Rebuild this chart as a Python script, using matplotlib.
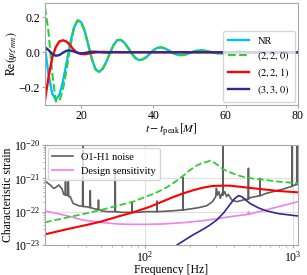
import numpy as np
import matplotlib
matplotlib.use('Agg')
from matplotlib import pyplot as plt
from matplotlib.ticker import NullFormatter

plt.rcParams['font.family'] = ['Liberation Serif', 'DejaVu Serif']
plt.rcParams['mathtext.fontset'] = 'stix'
plt.rcParams['font.size'] = 8.5
plt.rcParams['axes.edgecolor'] = '0.65'
plt.rcParams['axes.linewidth'] = 0.8
for a in ('xtick', 'ytick'):
    plt.rcParams[a + '.color'] = '0.65'
    plt.rcParams[a + '.labelcolor'] = 'black'
    plt.rcParams[a + '.major.size'] = 2
    plt.rcParams[a + '.minor.size'] = 1.2
    plt.rcParams[a + '.major.pad'] = 1.5
    plt.rcParams[a + '.minor.pad'] = 1.5

# ---- ringdown waveforms (top panel), sampled every 1 M
t = np.arange(10, 81, 1.0)
nr = [0.02, -0.13, -0.235, -0.27, -0.242, -0.164, -0.056, 0.054, 0.140, 0.180,
      0.172, 0.120, 0.040, -0.041, -0.098, -0.112, -0.093, -0.053, -0.003, 0.042,
      0.069, 0.070, 0.053, 0.025, -0.007, -0.033, -0.045, -0.041, -0.028, -0.0085,
      0.011, 0.024, 0.028, 0.023, 0.013, 0.0005, -0.010, -0.016, -0.016, -0.012,
      -0.0046, 0.003, 0.009, 0.011, 0.0096, 0.0059, 0.001, -0.0036, -0.0065, -0.007,
      -0.0053, -0.0025, 0.0006, 0.0033, 0.0045, 0.004, 0.002, -0.0003, -0.002, -0.003,
      -0.0025, -0.001, 0.0005, 0.0015, 0.0018, 0.001, 0.0, -0.001, -0.001, -0.0005, 0.0]
mode_220 = [0.256, 0.11, -0.12, -0.28, -0.278, -0.208, -0.095, 0.031, 0.134, 0.182,
            0.173, 0.120, 0.040, -0.041, -0.098, -0.112, -0.093, -0.053, -0.003, 0.042,
            0.069, 0.070, 0.053, 0.025, -0.007, -0.033, -0.045, -0.041, -0.028, -0.0085,
            0.011, 0.024, 0.028, 0.023, 0.013, 0.0005, -0.010, -0.016, -0.016, -0.012,
            -0.0046, 0.003, 0.009, 0.011, 0.0096, 0.0059, 0.001, -0.0036, -0.0065, -0.007,
            -0.0053, -0.0025, 0.0006, 0.0033, 0.0045, 0.004, 0.002, -0.0003, -0.002, -0.003,
            -0.0025, -0.001, 0.0005, 0.0015, 0.0018, 0.001, 0.0, -0.001, -0.001, -0.0005, 0.0]
mode_221 = [-0.27, -0.14, -0.03, 0.03, 0.062, 0.068, 0.060, 0.038, 0.013, -0.004,
            -0.010, -0.011, -0.008, -0.004, -0.001, 0.001, 0.002, 0.0015, 0.0008] + [0.0] * 52
mode_330 = [0.028, 0.012, -0.010, -0.020, -0.016, -0.002, 0.009, 0.010, 0.004, -0.003,
            -0.006, -0.004, 0.0, 0.003, 0.003, 0.001, -0.001, -0.002, -0.001, 0.0005,
            0.001] + [0.0] * 50
labels_top = ['NR', '$(2,2,0)$', '$(2,2,1)$', '$(3,3,0)$']

# ---- characteristic strain (bottom panel), values as log10(strain)
noise_f = [21.3, 22.8, 24.0, 24.7, 26.0, 27.4, 28.1, 28.7, 28.9, 29.1, 30.0, 30.2, 30.4,
           31.1, 32.5, 35.4, 37.7, 37.9, 38.1, 39.9, 42.3, 42.5, 42.7, 45.9, 48.1, 48.3,
           48.5, 50.9, 56, 62.5, 62.7, 62.9, 70, 81.1, 81.3, 81.5, 90, 100, 110, 119.8,
           120, 120.2, 147, 179.8, 180, 180.2, 201, 230, 261, 285, 300, 303, 308, 315,
           322, 330, 334.8, 335, 335.2, 345, 355, 365, 385, 416, 460, 498.8, 499, 499.2,
           512, 597.8, 598, 598.2, 661, 860, 981.8, 982, 982.2, 1000, 1059.8, 1060, 1060.2]
noise_h = [-21.10, -21.20, -21.30, -21.28, -21.20, -21.32, -21.48, -21.50, -21.10, -21.50,
           -21.52, -21.10, -21.55, -21.55, -21.75, -21.82, -21.84, -19.8, -21.85, -21.85,
           -21.88, -21.37, -21.88, -21.92, -21.93, -21.65, -21.94, -21.98, -22.0, -22.0,
           -20.70, -22.0, -22.02, -22.02, -21.70, -22.02, -22.02, -22.0, -22.0, -22.0,
           -21.68, -22.0, -21.98, -21.95, -20.98, -21.95, -21.92, -21.88, -21.82, -21.70,
           -21.55, -21.30, -21.50, -21.40, -21.60, -21.45, -21.5, -19.8, -21.5, -21.40,
           -21.55, -21.48, -21.65, -21.70, -21.65, -21.62, -20.70, -21.62, -21.58, -21.52,
           -21.00, -21.52, -21.45, -21.32, -21.24, -19.8, -21.24, -21.22, -21.18, -19.8, -21.18]
design_f = [21, 25, 30, 38, 50, 65, 83, 100, 130, 180, 235, 300, 375, 499.6, 500, 500.4,
            652, 850, 1080]
design_h = [-21.98, -22.05, -22.13, -22.25, -22.32, -22.37, -22.38, -22.38, -22.37, -22.33,
            -22.28, -22.22, -22.15, -22.08, -22.0, -22.08, -21.95, -21.82, -21.70]
f220 = [21, 30, 40, 50, 65, 83, 100, 120, 140, 160, 181, 200, 220, 240, 260, 275, 290,
        305, 330, 356, 400, 454, 520, 652, 800, 1080]
h220 = [-22.32, -22.17, -22.05, -21.95, -21.82, -21.70, -21.56, -21.42, -21.27, -21.10,
        -20.92, -20.76, -20.63, -20.55, -20.51, -20.47, -20.52, -20.58, -20.70, -20.78,
        -20.87, -20.95, -21.00, -21.05, -21.10, -21.15]
f221 = [21, 30, 40, 50, 65, 83, 108, 130, 155, 181, 210, 235, 260, 285, 330, 375, 450,
        598, 800, 1080]
h221 = [-22.68, -22.52, -22.40, -22.30, -22.15, -22.02, -21.85, -21.70, -21.56, -21.45,
        -21.36, -21.30, -21.26, -21.23, -21.22, -21.22, -21.26, -21.32, -21.38, -21.42]
f330 = [150, 164, 190, 210, 235, 270, 305, 340, 375, 400, 427, 450, 480, 510, 580, 652,
        800, 1080]
h330 = [-23.15, -23.0, -22.82, -22.70, -22.58, -22.42, -22.25, -22.03, -21.78, -21.62,
        -21.52, -21.55, -21.65, -21.75, -21.88, -21.97, -22.06, -22.13]
strain_ticks = [1e-23, 1e-22, 1e-21, 1e-20]
freq_ticks = [100, 1000]

c_nr, c220, c221, c330 = '#00bfff', '#32cd32', '#ff0000', '#2e2a8f'

fig = plt.figure(figsize=(3.07, 2.75), dpi=100)
ax1 = fig.add_axes([45/307, 1-105/275, 253/307, 102/275])
ax2 = fig.add_axes([45/307, 1-245/275, 253/307, 100/275])

ax1.plot(t, nr, color=c_nr, lw=1.7, label=labels_top[0])
ax1.plot(t, mode_220, color=c220, lw=1.5, ls='--', label=labels_top[1])
ax1.plot(t, mode_221, color=c221, lw=1.7, label=labels_top[2])
ax1.plot(t, mode_330, color=c330, lw=1.7, label=labels_top[3])
ax1.set_xlim(10, 80)
ax1.set_ylim(-0.30, 0.28)
ax1.set_xticks([20, 40, 60, 80])
ax1.set_yticks([-0.2, 0.0, 0.2])
ax1.set_xlabel(r'$t - t_{\rm peak} [M]$', labelpad=0)
ax1.set_ylabel(r'$\mathrm{Re}(\psi_{\ell m n})$', labelpad=0)
ax1.legend(loc='lower right', fontsize=7.5, borderaxespad=0.3, labelspacing=0.3,
           borderpad=0.5)

ax2.plot(noise_f, np.power(10.0, noise_h), color='#5f5f5f', lw=1.2, label='O1-H1 noise')
ax2.plot(design_f, np.power(10.0, design_h), color='violet', lw=1.2, label='Design sensitivity')
ax2.plot(f220, np.power(10.0, h220), color=c220, lw=1.3, ls='--')
ax2.plot(f221, np.power(10.0, h221), color=c221, lw=1.5)
ax2.plot(f330, np.power(10.0, h330), color=c330, lw=1.2)
ax2.set_xscale('log')
ax2.set_yscale('log')
ax2.set_xticks(freq_ticks)
ax2.set_yticks(strain_ticks)
ax2.set_xlim(21, 1080)
ax2.set_ylim(1e-23, 1e-20)
ax2.xaxis.set_minor_formatter(NullFormatter())
ax2.yaxis.set_minor_formatter(NullFormatter())
ax2.grid(True, which='major', color='0.88', lw=0.8)
ax2.set_axisbelow(True)
ax2.set_xlabel('Frequency [Hz]', labelpad=-0.5)
ax2.set_ylabel('Characteristic strain', labelpad=0)
ax2.legend(loc='upper left', fontsize=7.5, borderaxespad=0.3)

fig.savefig('out.png', dpi=100)
